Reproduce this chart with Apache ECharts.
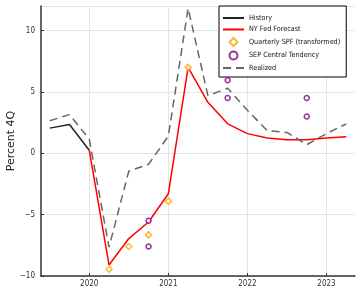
<!DOCTYPE html>
<html>
<head>
<meta charset="utf-8">
<script src="https://cdn.jsdelivr.net/npm/echarts@6/dist/echarts.min.js"></script>
<style>
  html, body { margin: 0; padding: 0; background: #fff; }
  #chart { width: 356px; height: 291px; }
</style>
</head>
<body>
<div id="chart"></div>
<script>
// quarterly positions as decimal years
const histX = [2019.5, 2019.75, 2020.0];
const histY = [2.05, 2.35, 0.25];

const fcstX = [2020.0, 2020.25, 2020.5, 2020.75, 2021.0, 2021.25, 2021.5, 2021.75,
  2022.0, 2022.25, 2022.5, 2022.75, 2023.0, 2023.25];
const fcstY = [0.25, -9.1, -6.95, -5.6, -3.3, 7.0, 4.15, 2.4, 1.6, 1.25, 1.1, 1.1, 1.25, 1.35];

const realX = [2019.5, 2019.75, 2020.0, 2020.25, 2020.5, 2020.75, 2021.0, 2021.25,
  2021.5, 2021.75, 2022.0, 2022.25, 2022.5, 2022.75, 2023.0, 2023.25];
const realY = [2.65, 3.15, 1.15, -7.65, -1.45, -0.9, 1.4, 11.8, 4.7, 5.3, 3.5, 1.85, 1.7, 0.7, 1.6, 2.4];

const spfX = [2020.25, 2020.5, 2020.75, 2021.0, 2021.25];
const spfY = [-9.45, -7.6, -6.65, -3.9, 7.0];

const sepX = [2020.75, 2020.75, 2021.75, 2021.75, 2022.75, 2022.75];
const sepY = [-5.5, -7.6, 5.95, 4.5, 4.5, 3.0];

const yearTicks = [2020, 2021, 2022, 2023];

const pairs = (xs, ys) => xs.map((x, i) => [x, ys[i]]);

const chart = echarts.init(document.getElementById('chart'));

const tickFont = { color: '#333', fontSize: 8, fontFamily: 'Liberation Sans Narrow, DejaVu Sans Condensed, sans-serif' };

chart.setOption({
  animation: false,
  grid: { left: 41, right: 1, top: 6, bottom: 15, outerBoundsMode: 'none', containLabel: false },
  legend: {
    orient: 'vertical',
    left: 219,
    top: 6,
    padding: [8, 6, 5, 3],
    itemWidth: 21,
    itemHeight: 8,
    itemGap: 3.5,
    backgroundColor: '#fff',
    borderColor: '#000',
    borderWidth: 1,
    borderRadius: 0,
    textStyle: { color: '#111', fontSize: 7.2, lineHeight: 8, fontFamily: 'Liberation Sans Narrow, DejaVu Sans Condensed, sans-serif' },
    data: [
      { name: 'History', itemStyle: { opacity: 0 } },
      { name: 'NY Fed Forecast', itemStyle: { opacity: 0 } },
      { name: 'Quarterly SPF (transformed)', icon: 'path://M5,0L10,5L5,10L0,5Z' },
      { name: 'SEP Central Tendency', icon: 'path://M5,0A5,5 0 1 1 5,10A5,5 0 1 1 5,0Z' },
      { name: 'Realized', itemStyle: { opacity: 0 } }
    ]
  },
  xAxis: {
    type: 'value',
    min: 2019.39,
    max: 2023.36,
    axisLine: { show: true, onZero: false, lineStyle: { color: '#333', width: 1.5 } },
    axisTick: { show: true, inside: true, length: 3, customValues: yearTicks, lineStyle: { color: '#333' } },
    axisLabel: { customValues: yearTicks, margin: 4, formatter: v => String(v), ...tickFont },
    splitLine: { show: true, lineStyle: { color: '#e4e4e4', width: 1 } }
  },
  yAxis: {
    type: 'value',
    min: -10,
    max: 12,
    interval: 5,
    name: 'Percent 4Q',
    nameLocation: 'middle',
    nameGap: 24,
    nameMoveOverlap: false,
    nameTextStyle: { color: '#222', fontSize: 11, fontFamily: 'DejaVu Sans, sans-serif' },
    axisLine: { show: true, onZero: false, lineStyle: { color: '#333', width: 1.5 } },
    axisTick: { show: true, inside: true, length: 3, lineStyle: { color: '#333' } },
    axisLabel: {
      margin: 6,
      showMaxLabel: false,
      formatter: v => String(v).replace('-', '\u2212'),
      ...tickFont
    },
    splitLine: { show: true, lineStyle: { color: '#e4e4e4', width: 1 } }
  },
  series: [
    {
      name: 'History',
      type: 'line',
      data: pairs(histX, histY),
      symbol: 'none',
      lineStyle: { color: '#222', width: 1.5 },
      itemStyle: { color: '#222' },
      z: 3
    },
    {
      name: 'NY Fed Forecast',
      type: 'line',
      data: pairs(fcstX, fcstY),
      symbol: 'none',
      lineStyle: { color: '#ff0000', width: 1.5 },
      itemStyle: { color: '#ff0000' },
      z: 3
    },
    {
      name: 'Quarterly SPF (transformed)',
      type: 'scatter',
      data: pairs(spfX, spfY),
      symbol: 'diamond',
      symbolSize: 6,
      itemStyle: { color: '#fff', borderColor: '#ffa500', borderWidth: 1.5 },
      z: 5
    },
    {
      name: 'SEP Central Tendency',
      type: 'scatter',
      data: pairs(sepX, sepY),
      symbol: 'circle',
      symbolSize: 5,
      itemStyle: { color: '#fff', borderColor: '#800080', borderWidth: 1.5 },
      z: 5
    },
    {
      name: 'Realized',
      type: 'line',
      data: pairs(realX, realY),
      symbol: 'none',
      lineStyle: { color: '#666', width: 1.5, type: [8, 5] },
      itemStyle: { color: '#666' },
      z: 4
    }
  ]
});
</script>
</body>
</html>
